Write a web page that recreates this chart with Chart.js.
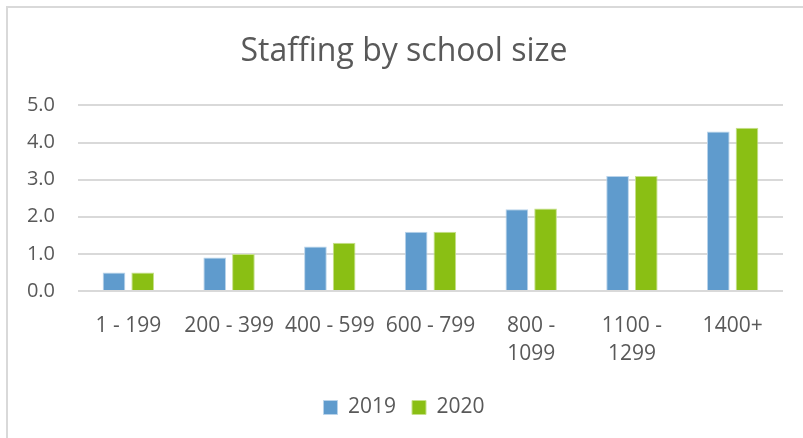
<!DOCTYPE html>
<html>
<head>
<meta charset="utf-8">
<script src="https://cdn.jsdelivr.net/npm/chart.js@4"></script>
<style>
  html, body { margin: 0; padding: 0; background: #fff; }
  .wrap { position: relative; width: 803px; height: 438px; overflow: hidden; }
  .frame {
    position: absolute; left: 6px; top: 6px; width: 820px; height: 460px;
    border-left: 2px solid #d9d9d9; border-top: 2px solid #d9d9d9;
  }
  canvas { position: absolute; left: 0; top: 0; }
</style>
</head>
<body>
<div class="wrap">
  <div class="frame"></div>
  <canvas id="staffChart" width="803" height="438"></canvas>
</div>
<script>
// school size bands
const sizeBands = ["1 - 199", "200 - 399", "400 - 599", "600 - 799", ["800 -", "1099"], ["1100 -", "1299"], "1400+"];
const staff2019 = [0.5, 0.9, 1.2, 1.6, 2.2, 3.1, 4.3];
const staff2020 = [0.5, 1.0, 1.3, 1.6, 2.22, 3.1, 4.4];
const yTicks = [0, 1, 2, 3, 4, 5];

const textGray = "#595959";
const fontFamily = "'Open Sans', sans-serif";

const ctx = document.getElementById("staffChart").getContext("2d");
new Chart(ctx, {
  type: "bar",
  data: {
    labels: sizeBands,
    datasets: [
      {
        label: "2019",
        data: staff2019,
        backgroundColor: "#5f9bcd",
        borderColor: "#b9d3ea",
        borderWidth: 1,
      },
      {
        label: "2020",
        data: staff2020,
        backgroundColor: "#8abf14",
        borderColor: "#c6e08a",
        borderWidth: 1,
      },
    ],
  },
  options: {
    responsive: false,
    animation: false,
    layout: { padding: { left: 25, right: 20, top: 33, bottom: 10 } },
    datasets: { bar: { categoryPercentage: 0.57, barPercentage: 0.79 } },
    scales: {
      x: {
        grid: { display: false },
        border: { display: false },
        ticks: {
          color: textGray,
          font: { family: fontFamily, size: 21, lineHeight: 1.38 },
          maxRotation: 0,
          autoSkip: false,
          padding: 12,
        },
      },
      y: {
        min: 0,
        max: 5,
        afterBuildTicks(axis) {
          axis.ticks = yTicks.map((v) => ({ value: v }));
        },
        // fixed axis width so the plot starts right after the labels
        afterFit(axis) {
          axis.width = 53;
        },
        grid: { color: "#d9d9d9", lineWidth: 2, drawTicks: false },
        border: { display: false },
        ticks: {
          color: textGray,
          font: { family: fontFamily, size: 20 },
          padding: 23,
          callback: (v) => Number(v).toFixed(1),
        },
      },
    },
    plugins: {
      title: {
        display: true,
        text: "Staffing by school size",
        color: textGray,
        font: { family: fontFamily, size: 32, weight: "normal" },
        padding: { top: 0, bottom: 34 },
      },
      legend: {
        position: "bottom",
        labels: {
          color: textGray,
          font: { family: fontFamily, size: 21 },
          boxWidth: 14,
          boxHeight: 14,
          padding: 16,
        },
      },
      tooltip: { enabled: false },
    },
  },
});
</script>
</body>
</html>
